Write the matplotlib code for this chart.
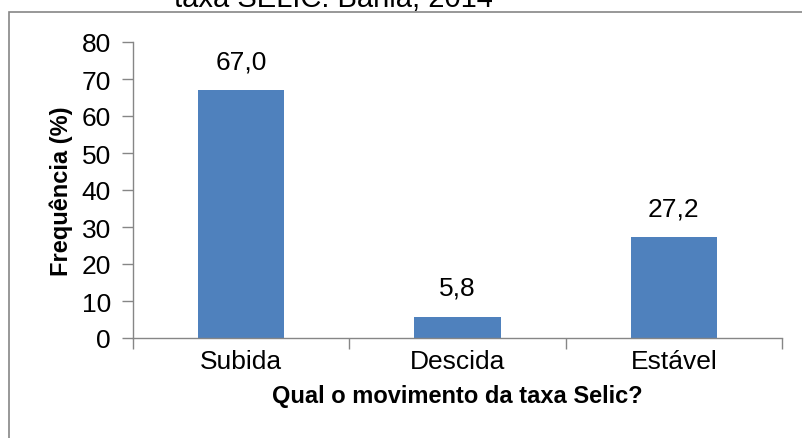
import matplotlib
matplotlib.use("Agg")
import matplotlib.pyplot as plt
from matplotlib.patches import Rectangle

categorias = ["Subida", "Descida", "Estável"]
frequencias = [67.0, 5.8, 27.2]
rotulos = ["67,0", "5,8", "27,2"]
y_ticks = [0, 10, 20, 30, 40, 50, 60, 70, 80]

plt.rcParams["font.family"] = ["Liberation Sans", "DejaVu Sans"]

W, H = 803, 439
fig = plt.figure(figsize=(W / 100, H / 100), dpi=100)
ax = fig.add_axes([133 / W, 100 / H, (782 - 133) / W, (339 - 43) / H])

cinza = "#868686"
azul = "#4F81BD"
fs = 19

x = list(range(len(categorias)))
barras = ax.bar(x, frequencias, width=0.4, color=azul, zorder=2)

for b, txt in zip(barras, rotulos):
    ax.annotate(txt, (b.get_x() + b.get_width() / 2, b.get_height()),
                xytext=(0, 12), textcoords="offset points",
                ha="center", va="bottom", fontsize=fs)

ax.set_xlim(-0.5, len(categorias) - 0.5)
ax.set_ylim(0, 80)
ax.set_yticks(y_ticks)
ax.set_yticklabels([str(v) for v in y_ticks])

# divisores entre categorias como ticks maiores, nomes nos menores
ax.set_xticks([i - 0.5 for i in range(len(categorias) + 1)])
ax.set_xticklabels([])
ax.set_xticks(x, minor=True)
ax.set_xticklabels(categorias, minor=True)

ax.tick_params(axis="x", which="major", direction="out", length=8, color=cinza, width=1)
ax.tick_params(axis="x", which="minor", length=0, pad=8, labelsize=fs)
ax.tick_params(axis="y", direction="out", length=8, color=cinza, width=1, pad=8, labelsize=fs)

for s in ["top", "right"]:
    ax.spines[s].set_visible(False)
for s in ["left", "bottom"]:
    ax.spines[s].set_color(cinza)
    ax.spines[s].set_linewidth(1)

ax.set_xlabel("Qual o movimento da taxa Selic?", fontsize=17, fontweight="bold", labelpad=8)
ax.set_ylabel("Frequência (%)", fontsize=17, fontweight="bold", labelpad=6)

# moldura da área do gráfico
fig.patches.append(Rectangle((9 / W, -0.2), 1.2, (H - 13) / H + 0.2,
                             transform=fig.transFigure, fill=False,
                             edgecolor=cinza, linewidth=1.2))

fig.text(174 / W, (H - 7) / H, "taxa SELIC. Bahia, 2014",
         fontsize=21, ha="left", va="baseline")

fig.savefig("out.png", dpi=100)
